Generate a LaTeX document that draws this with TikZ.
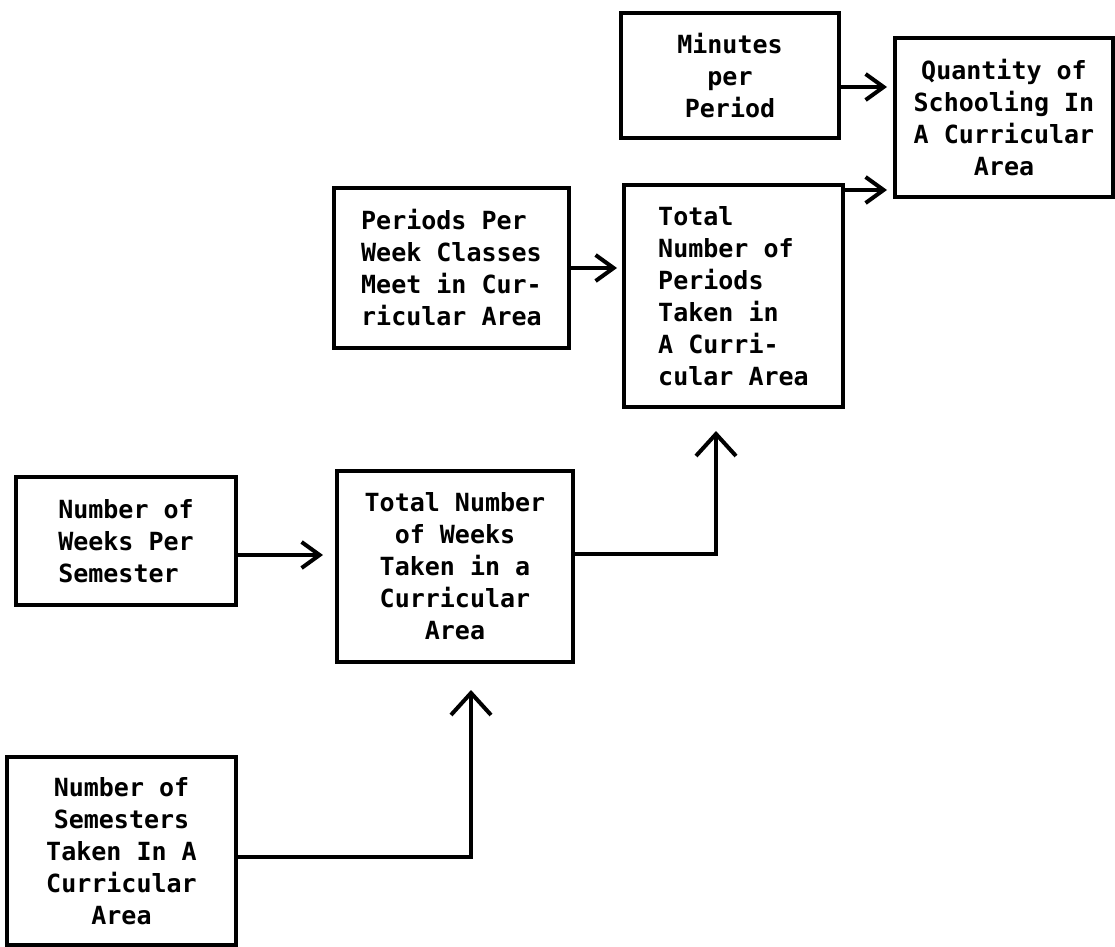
\documentclass[tikz,border=0pt]{standalone}
\usepackage{fontspec}
\setmonofont{DejaVu Sans Mono}
\usetikzlibrary{arrows.meta, positioning, calc}

\begin{document}
\begin{tikzpicture}[x=0.5pt, y=-0.5pt,
  blk/.style={draw, line width=2pt, inner sep=0pt, font=\ttfamily\bfseries\fontsize{12.5}{16}\selectfont},
  arr/.style={line width=2.2pt, -{Straight Barb[length=9pt, width=13pt, line width=2pt]}},
  uparr/.style={line width=2pt, -{Straight Barb[length=11pt, width=20pt, line width=2pt]}}]

  \useasboundingbox (0,0) rectangle (1115,947);

  \node[blk, align=center, minimum width=109pt, minimum height=62.5pt] (minutes) at (730,75.5) {Minutes\\per\\Period};
  \node[blk, align=center, minimum width=109pt, minimum height=79.5pt] (quantity) at (1004,117.5) {Quantity of\\Schooling In\\A Curricular\\Area};
  \node[blk, align=left, minimum width=117.5pt, minimum height=80pt] (perweek) at (451.5,268) {Periods Per\\Week Classes\\Meet in Cur-\\ricular Area};
  \node[blk, align=left, minimum width=109.5pt, minimum height=111pt] (periods) at (733.5,296) {Total\\Number of\\Periods\\Taken in\\A Curri-\\cular Area};
  \node[blk, align=left, minimum width=110pt, minimum height=64pt] (weekssem) at (126,541) {Number of\\Weeks Per\\Semester};
  \node[blk, align=center, minimum width=118pt, minimum height=95.5pt] (weeks) at (455,566.5) {Total Number\\of Weeks\\Taken in a\\Curricular\\Area};
  \node[blk, align=center, minimum width=114.5pt, minimum height=94pt] (semesters) at (121.5,851) {Number of\\Semesters\\Taken In A\\Curricular\\Area};

  \path ([yshift=-5.75pt]minutes.east) coordinate (mq)
        ([yshift=-3.5pt]periods.north east) coordinate (pq)
        ([yshift=-7pt]weekssem.east) coordinate (sw)
        ([yshift=6.25pt]weeks.east) coordinate (wp)
        ([yshift=-3pt]semesters.east) coordinate (sm);

  \draw[arr, shorten >=3pt] (mq) -- (mq -| quantity.west);
  \draw[arr, shorten >=3pt] (pq) -- (pq -| quantity.west);
  \draw[arr, shorten >=2.5pt] (perweek.east) -- (perweek.east -| periods.west);
  \draw[arr, shorten >=6pt] (sw) -- (sw -| weeks.west);
  \draw[uparr, shorten >=11pt] (wp) -| ([xshift=-8.75pt]periods.south);
  \draw[uparr, shorten >=13pt] (sm) -| ([xshift=8pt]weeks.south);

\end{tikzpicture}
\end{document}
